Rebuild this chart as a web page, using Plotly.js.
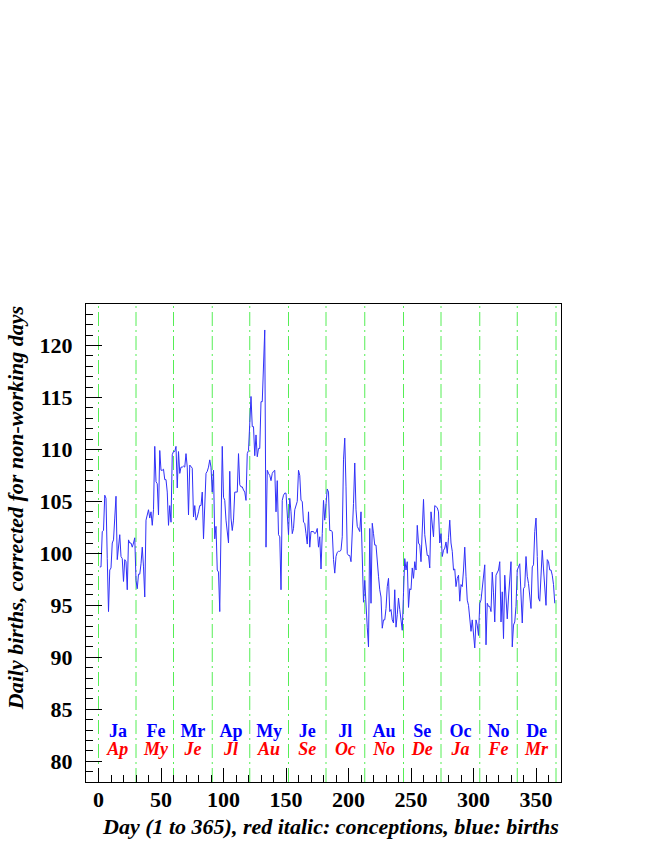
<!DOCTYPE html>
<html>
<head>
<meta charset="utf-8">
<script src="https://cdn.plot.ly/plotly-3.0.1.min.js"></script>
<style>
  body { margin: 0; background: #ffffff; }
  #chart { width: 654px; height: 846px; }
</style>
</head>
<body>
<div id="chart"></div>
<script>
// births per day, corrected for non-working days (day 1 .. 365)
let births = [
  98.7, 98.7, 102.1, 102.2, 105.6, 105.3, 99.5, 94.4, 98.4, 98.6,
  101.0, 101.3, 103.4, 105.5, 99.4, 100.6, 101.8, 99.7, 99.5, 97.3,
  99.4, 99.2, 96.5, 101.3, 101.0, 101.0, 100.6, 101.0, 101.5, 97.4,
  96.6, 98.0, 98.0, 99.0, 100.6, 98.7, 95.8, 103.2, 103.7, 104.2,
  103.4, 104.0, 102.7, 104.2, 110.3, 106.9, 106.7, 103.7, 109.9, 108.0,
  108.0, 108.1, 107.1, 107.1, 105.9, 102.7, 104.6, 103.0, 109.5, 109.8,
  109.8, 110.3, 106.3, 109.8, 107.7, 108.3, 108.3, 108.4, 108.3, 109.6,
  108.3, 103.7, 108.5, 108.3, 108.2, 103.5, 104.6, 103.2, 103.5, 104.0,
  104.6, 104.6, 105.9, 101.4, 104.8, 107.7, 107.9, 108.3, 109.0, 108.3,
  105.9, 108.0, 101.4, 102.6, 98.4, 98.2, 94.4, 103.2, 110.3, 105.4,
  105.1, 103.2, 102.2, 101.0, 107.9, 103.4, 102.2, 103.2, 105.9, 105.9,
  105.9, 109.6, 106.6, 106.4, 106.4, 106.1, 105.9, 105.1, 109.6, 109.9,
  111.9, 115.1, 112.2, 112.2, 109.4, 111.4, 109.3, 110.1, 110.1, 114.6,
  114.6, 119.5, 121.5, 100.6, 108.0, 107.7, 107.5, 107.0, 107.7, 107.9,
  108.0, 104.0, 107.0, 101.8, 101.6, 96.5, 105.1, 105.6, 105.8, 105.8,
  104.2, 101.8, 105.3, 104.0, 101.9, 102.4, 104.2, 104.6, 105.0, 108.0,
  107.5, 105.1, 105.0, 103.0, 102.9, 101.9, 100.9, 104.0, 100.6, 102.1,
  102.1, 102.1, 101.9, 102.0, 102.4, 100.6, 101.6, 98.5, 101.9, 105.1,
  103.2, 104.6, 106.2, 105.9, 102.2, 102.2, 102.1, 99.4, 98.1, 99.7,
  100.1, 100.2, 100.2, 100.3, 101.6, 109.0, 111.1, 106.4, 100.0, 99.8,
  99.8, 99.2, 103.2, 104.8, 108.7, 104.2, 102.6, 102.4, 102.1, 104.0,
  99.7, 95.3, 97.4, 94.2, 92.9, 91.0, 102.4, 95.2, 102.9, 101.9,
  100.8, 100.8, 98.7, 97.8, 96.5, 95.8, 92.8, 93.6, 93.6, 94.7,
  96.8, 97.6, 94.4, 94.6, 93.6, 93.3, 96.5, 92.9, 94.1, 95.7,
  94.6, 93.6, 92.6, 96.2, 99.5, 98.4, 99.2, 94.8, 96.6, 96.5,
  98.6, 97.6, 99.2, 98.4, 102.7, 101.0, 100.8, 99.2, 102.5, 105.2,
  101.8, 100.5, 99.8, 99.8, 98.6, 104.0, 102.9, 101.6, 104.6, 104.5,
  104.4, 104.0, 101.0, 101.9, 99.7, 100.3, 100.5, 101.1, 100.0, 101.5,
  103.2, 101.0, 100.2, 98.4, 98.5, 96.8, 97.6, 97.9, 95.4, 97.0,
  96.8, 98.4, 100.6, 97.8, 95.5, 95.0, 93.9, 92.5, 93.6, 92.0,
  90.9, 93.6, 93.1, 92.1, 95.2, 95.5, 96.8, 98.1, 98.9, 91.2,
  95.2, 94.9, 94.9, 94.4, 98.2, 96.2, 93.4, 97.9, 98.2, 98.4,
  99.2, 93.4, 96.3, 91.8, 97.9, 95.8, 93.7, 95.8, 97.5, 99.2,
  91.0, 93.1, 93.4, 94.9, 98.4, 98.7, 99.0, 96.0, 93.3, 96.6,
  96.8, 99.7, 97.8, 97.1, 95.8, 94.7, 98.7, 98.9, 102.1, 103.4,
  99.7, 95.7, 95.4, 97.9, 100.3, 98.5, 96.8, 95.0, 99.4, 99.2,
  98.4, 98.4, 97.9, 97.0, 95.2
];

// month boundaries (day) and month label positions
let monthEdges = [0, 30, 60, 91, 121, 152, 182, 213, 244, 274, 305, 335, 366];
let monthMid = [15.5, 46, 75.5, 106, 136.5, 167, 197.5, 228.5, 259, 289.5, 320, 350.5];
let birthMonths = ["Ja", "Fe", "Mr", "Ap", "My", "Je", "Jl", "Au", "Se", "Oc", "No", "De"];
let conceptionMonths = ["Ap", "My", "Je", "Jl", "Au", "Se", "Oc", "No", "De", "Ja", "Fe", "Mr"];
let birthLabelLevel = 82.8;
let conceptionLabelLevel = 81.0;

let days = [];
for (let i = 0; i < births.length; i++){
    days.push(i + 1);
}

const serif = "Liberation Serif, Times New Roman, serif";

function getLabelTrace(labels, level, Color, italic){
    let ys = [];
    for (let i = 0; i < labels.length; i++){
        ys.push(level);
    }
    return {
        x: monthMid,
        y: ys,
        text: labels,
        mode: 'text',
        type: 'scatter',
        hoverinfo: 'none',
        textfont: {family: serif, size: 18, color: Color, weight: 'bold', style: italic ? 'italic' : 'normal'}
    };
}

let traces = [];
traces.push({
    x: days,
    y: births,
    type: 'scatter',
    mode: 'lines',
    line: {color: '#3030f8', width: 1}
});
traces.push(getLabelTrace(birthMonths, birthLabelLevel, '#0000ff', false));
traces.push(getLabelTrace(conceptionMonths, conceptionLabelLevel, '#ff0000', true));

let shapes = [];
for (let i = 0; i < monthEdges.length; i++){
    shapes.push({
        type: 'line',
        xref: 'x', yref: 'paper',
        x0: monthEdges[i], x1: monthEdges[i],
        y0: 0, y1: 1,
        line: {color: '#55ee55', width: 1, dash: '14px,4px,2px,4px'},
        layer: 'below'
    });
}

let layout = {
    width: 654,
    height: 846,
    margin: {l: 86, r: 93, t: 304, b: 64},
    paper_bgcolor: '#ffffff',
    plot_bgcolor: '#ffffff',
    showlegend: false,
    shapes: shapes,
    xaxis: {
        range: [-10, 370],
        tick0: 0,
        dtick: 50,
        ticks: 'inside',
        ticklen: 14,
        tickcolor: '#000000',
        minor: {dtick: 10, ticks: 'inside', ticklen: 7, tickcolor: '#000000', showgrid: false},
        showgrid: false,
        zeroline: false,
        showline: true,
        mirror: true,
        linecolor: '#000000',
        linewidth: 1,
        ticklabelstandoff: -2,
        tickfont: {family: serif, size: 22, color: '#000000', weight: 'bold'}
    },
    yaxis: {
        range: [78, 124],
        tick0: 80,
        dtick: 5,
        ticks: 'inside',
        ticklen: 16,
        tickcolor: '#000000',
        minor: {dtick: 1, ticks: 'inside', ticklen: 7, tickcolor: '#000000', showgrid: false},
        showgrid: false,
        zeroline: false,
        showline: true,
        mirror: true,
        linecolor: '#000000',
        linewidth: 1,
        ticklabelstandoff: 8,
        tickfont: {family: serif, size: 22, color: '#000000', weight: 'bold'}
    },
    annotations: [
        {
            text: 'Day (1 to 365), red italic: conceptions, blue: births',
            xref: 'paper', yref: 'paper',
            x: 1, y: -0.094,
            xanchor: 'right', yanchor: 'middle',
            showarrow: false,
            font: {family: serif, size: 22, color: '#000000', weight: 'bold', style: 'italic'}
        },
        {
            text: 'Daily births, corrected for non-working days',
            xref: 'paper', yref: 'paper',
            x: -0.149, y: 1,
            xanchor: 'center', yanchor: 'top',
            textangle: -90,
            showarrow: false,
            font: {family: serif, size: 22, color: '#000000', weight: 'bold', style: 'italic'}
        }
    ]
};

Plotly.newPlot('chart', traces, layout, {displayModeBar: false, staticPlot: true});
</script>
</body>
</html>
